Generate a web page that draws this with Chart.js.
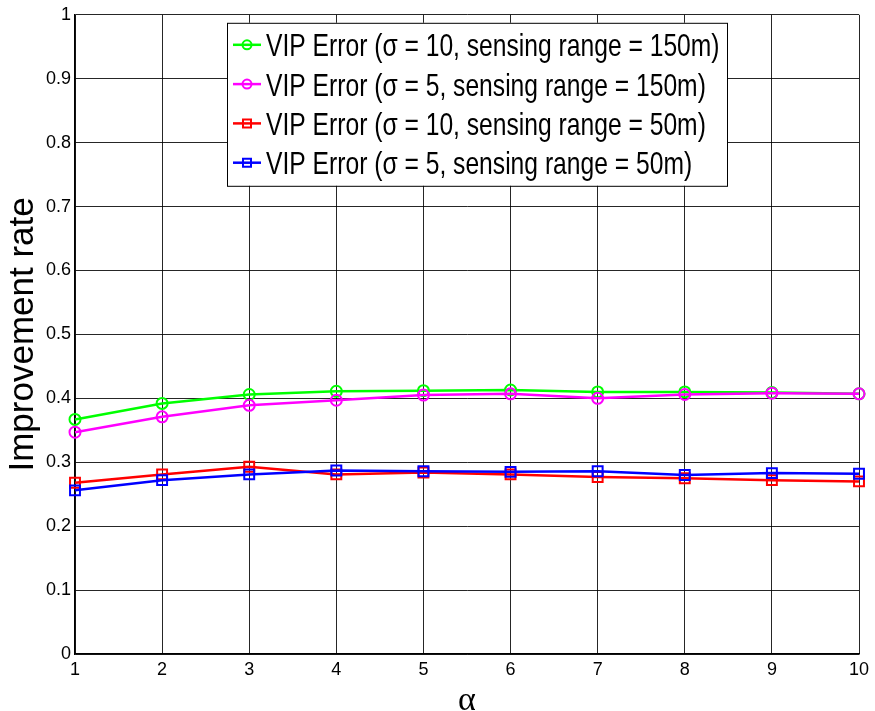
<!DOCTYPE html>
<html>
<head>
<meta charset="utf-8">
<script src="https://cdn.jsdelivr.net/npm/chart.js@4.4.1/dist/chart.umd.min.js"></script>
<style>
  html, body { margin: 0; padding: 0; background: #fff; }
</style>
</head>
<body>
<canvas id="chart" width="875" height="711"></canvas>
<script>
  const alphaValues = [1, 2, 3, 4, 5, 6, 7, 8, 9, 10];
  const sigma10Range150 = [0.367, 0.392, 0.406, 0.411, 0.412, 0.413, 0.410, 0.410, 0.409, 0.407];
  const sigma5Range150 = [0.347, 0.371, 0.389, 0.397, 0.405, 0.407, 0.400, 0.406, 0.408, 0.407];
  const sigma10Range50 = [0.268, 0.281, 0.293, 0.281, 0.284, 0.281, 0.277, 0.275, 0.272, 0.270];
  const sigma5Range50 = [0.256, 0.272, 0.281, 0.287, 0.286, 0.285, 0.286, 0.280, 0.283, 0.282];
  const seriesNames = [
    "VIP Error (\u03c3 = 10, sensing range = 150m)",
    "VIP Error (\u03c3 = 5, sensing range = 150m)",
    "VIP Error (\u03c3 = 10, sensing range = 50m)",
    "VIP Error (\u03c3 = 5, sensing range = 50m)"
  ];
  const yTicks = [0, 0.1, 0.2, 0.3, 0.4, 0.5, 0.6, 0.7, 0.8, 0.9, 1];

  const font = "'Liberation Sans', Arial, sans-serif";

  function series(label, values, color, marker, order) {
    return {
      label: label,
      data: alphaValues.map((a, i) => ({ x: a, y: values[i] })),
      borderColor: color,
      backgroundColor: color,
      borderWidth: 2.5,
      pointStyle: marker,
      pointRadius: marker === "rect" ? 7 : 5.5,
      pointBorderWidth: 2,
      pointBackgroundColor: "transparent",
      pointBorderColor: color,
      tension: 0,
      clip: false,
      order: order
    };
  }

  // legend box drawn inside the axes, matlab style
  const boxLegend = {
    id: "boxLegend",
    afterDatasetsDraw(chart) {
      const ctx = chart.ctx;
      const area = chart.chartArea;
      const left = area.left + 152, top = area.top + 8, w = 500, h = 163;
      const rowH = 39.3;
      ctx.save();
      ctx.fillStyle = "#fff";
      ctx.fillRect(left, top, w, h);
      ctx.strokeStyle = "#000";
      ctx.lineWidth = 1;
      ctx.strokeRect(left + 0.5, top + 0.5, w, h);
      chart.data.datasets.forEach((ds, i) => {
        const cy = top + 22 + i * rowH;
        ctx.strokeStyle = ds.borderColor;
        ctx.lineWidth = 2.5;
        ctx.beginPath();
        ctx.moveTo(left + 6, cy);
        ctx.lineTo(left + 34, cy);
        ctx.stroke();
        ctx.lineWidth = 2;
        ctx.beginPath();
        if (ds.pointStyle === "rect") {
          ctx.rect(left + 20 - 4, cy - 4, 8, 8);
        } else {
          ctx.arc(left + 20, cy, 4.5, 0, Math.PI * 2);
        }
        ctx.stroke();
        ctx.save();
        ctx.translate(left + 39, cy + 11.5);
        ctx.scale(0.795, 1.03);
        ctx.fillStyle = "#000";
        ctx.font = "31px " + font;
        ctx.textBaseline = "alphabetic";
        ctx.fillText(ds.label, 0, 0);
        ctx.restore();
      });
      ctx.restore();
    }
  };

  new Chart(document.getElementById("chart").getContext("2d"), {
    type: "line",
    data: {
      datasets: [
        series(seriesNames[0], sigma10Range150, "#00ff00", "circle", 3),
        series(seriesNames[1], sigma5Range150, "#ff00ff", "circle", 2),
        series(seriesNames[2], sigma10Range50, "#ff0000", "rect", 1),
        series(seriesNames[3], sigma5Range50, "#0000ff", "rect", 0)
      ]
    },
    options: {
      responsive: false,
      animation: false,
      devicePixelRatio: 1,
      layout: { padding: { top: 14, right: 16, left: 0, bottom: 0 } },
      plugins: { legend: { display: false }, tooltip: { enabled: false } },
      scales: {
        x: {
          type: "linear",
          min: 1,
          max: 10,
          afterBuildTicks: s => { s.ticks = alphaValues.map(v => ({ value: v })); },
          afterFit: s => { s.height = 57; },
          grid: { color: "rgba(0,0,0,0.85)", lineWidth: 1, drawTicks: false },
          border: { color: "#000", width: 1.5 },
          ticks: { color: "#000", font: { family: font, size: 18 }, padding: 5, maxRotation: 0 },
          title: {
            display: true,
            text: "\u03b1",
            color: "#000",
            font: { family: "'Liberation Serif', 'Times New Roman', serif", size: 34, lineHeight: 0.6 },
            padding: { top: 0, bottom: 0 }
          }
        },
        y: {
          min: 0,
          max: 1,
          afterBuildTicks: s => { s.ticks = yTicks.map(v => ({ value: v })); },
          afterFit: s => { s.width = 75; },
          grid: { color: "rgba(0,0,0,0.85)", lineWidth: 1, drawTicks: false },
          border: { color: "#000", width: 1.5 },
          ticks: {
            color: "#000",
            font: { family: font, size: 18 },
            padding: 4,
            callback: v => String(+v.toFixed(1))
          },
          title: {
            display: true,
            text: "Improvement rate",
            color: "#000",
            font: { family: font, size: 35, lineHeight: 1.2 },
            padding: { top: 2, bottom: 0 }
          }
        }
      }
    },
    plugins: [boxLegend]
  });
</script>
</body>
</html>
